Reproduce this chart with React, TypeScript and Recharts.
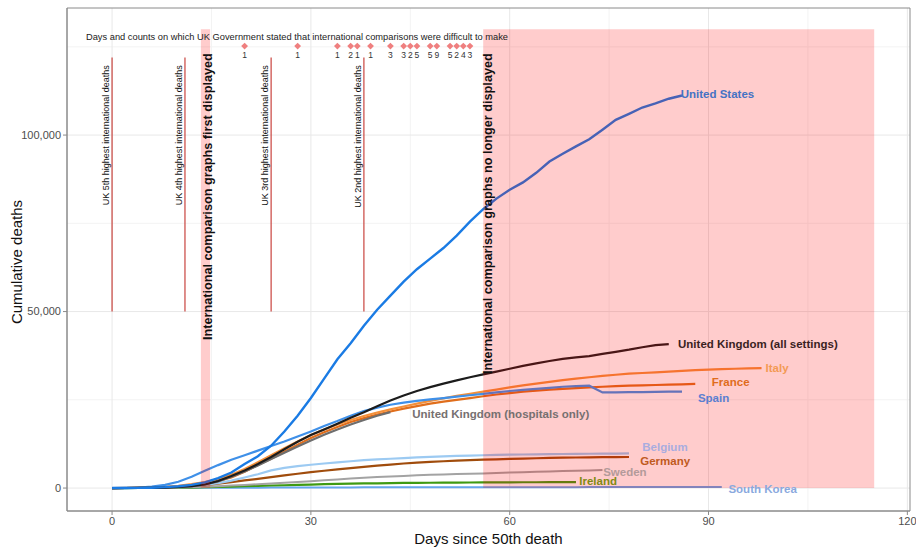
import React from 'react';
import {
  ComposedChart, Line, XAxis, YAxis, ReferenceArea, ReferenceLine, ReferenceDot,
} from 'recharts';

const FONT = "'Liberation Sans', Arial, sans-serif";

// days since 50th death, every 2 days
const DAYS = Array.from({ length: 50 }, (_, i) => i * 2);

// cumulative deaths, one value per entry of DAYS
const US = [0, 10, 40, 100, 250, 500, 900, 1600, 2800, 4400, 6800, 9000, 12000, 16000, 20500, 25500, 31000, 36500, 41000, 46000, 50500, 54500, 58500, 62000, 65000, 68000, 71500, 75500, 79000, 82000, 84500, 86600, 89300, 92500, 94700, 96800, 98800, 101500, 104300, 106000, 107800, 109000, 110300, 111200];
const UK_ALL = [0, 10, 30, 70, 150, 300, 550, 1000, 2000, 3400, 5000, 6800, 8800, 11000, 13100, 15000, 16600, 18200, 19900, 21500, 23200, 24800, 26200, 27500, 28600, 29600, 30500, 31400, 32200, 33000, 33800, 34600, 35300, 36000, 36600, 37000, 37400, 38000, 38600, 39200, 39900, 40500, 40800];
const UK_HOSP = [0, 10, 30, 70, 150, 300, 550, 1000, 1900, 3200, 4700, 6400, 8200, 10000, 11800, 13500, 15100, 16600, 18000, 19300, 20500, 21500];
const ITALY = [0, 30, 80, 180, 350, 650, 1100, 1700, 2500, 3800, 5400, 7300, 9300, 11300, 13200, 15000, 16600, 18000, 19300, 20400, 21400, 22300, 23100, 23900, 24700, 25400, 26100, 26700, 27300, 27900, 28500, 29100, 29600, 30100, 30600, 31000, 31400, 31800, 32100, 32400, 32600, 32800, 33000, 33200, 33400, 33550, 33700, 33800, 33900, 34000];
const FRANCE = [0, 20, 50, 120, 250, 450, 800, 1300, 2000, 3000, 4600, 6500, 8300, 10300, 12300, 14200, 15800, 17300, 18700, 19800, 20800, 21700, 22500, 23200, 23900, 24500, 25000, 25500, 26000, 26500, 26900, 27300, 27600, 27900, 28100, 28300, 28500, 28700, 28850, 29000, 29100, 29200, 29300, 29400, 29500];
const SPAIN = [0, 40, 150, 400, 900, 1800, 3200, 4900, 6500, 8000, 9300, 10600, 11900, 13200, 14600, 16000, 17600, 19000, 20500, 21800, 22800, 23600, 24200, 24700, 25100, 25500, 25900, 26300, 26700, 27100, 27500, 27800, 28100, 28400, 28700, 28900, 29000, 27100, 27100, 27150, 27200, 27250, 27300, 27300];
const BELGIUM = [0, 5, 20, 60, 150, 300, 550, 900, 1400, 2100, 3000, 3900, 5000, 5700, 6200, 6600, 6950, 7300, 7600, 7900, 8100, 8300, 8500, 8700, 8850, 9000, 9100, 9200, 9300, 9400, 9450, 9500, 9550, 9600, 9650, 9700, 9720, 9750, 9780, 9800];
const GERMANY = [0, 10, 30, 80, 170, 320, 550, 850, 1250, 1700, 2150, 2600, 3100, 3600, 4050, 4500, 4900, 5300, 5650, 6000, 6350, 6650, 6950, 7200, 7400, 7600, 7750, 7900, 8050, 8150, 8250, 8350, 8450, 8550, 8600, 8650, 8700, 8750, 8780, 8800];
const SWEDEN = [0, 5, 15, 40, 80, 150, 250, 380, 520, 700, 900, 1100, 1300, 1500, 1700, 1950, 2200, 2450, 2700, 2950, 3150, 3300, 3450, 3600, 3750, 3850, 3950, 4050, 4150, 4300, 4400, 4500, 4600, 4700, 4800, 4900, 5000, 5100];
const IRELAND = [0, 5, 15, 30, 60, 100, 150, 230, 320, 420, 520, 620, 720, 800, 900, 1000, 1100, 1200, 1250, 1300, 1350, 1400, 1440, 1480, 1510, 1540, 1560, 1580, 1600, 1610, 1630, 1640, 1650, 1660, 1670, 1680];
const SOUTH_KOREA = [0, 5, 15, 25, 35, 45, 55, 70, 80, 95, 105, 120, 130, 140, 150, 160, 170, 180, 190, 200, 205, 210, 215, 220, 225, 230, 235, 240, 245, 250, 252, 254, 256, 258, 260, 262, 264, 266, 268, 269, 270, 271, 272, 273, 274, 275, 276];

// drawn bottom to top
const SERIES = [
  { key: 'kr', values: SOUTH_KOREA, color: '#64a6ec', width: 2 },
  { key: 'ie', values: IRELAND, color: '#3f9a12', width: 2.2 },
  { key: 'se', values: SWEDEN, color: '#a3a3a3', width: 2 },
  { key: 'de', values: GERMANY, color: '#a04c0c', width: 2.2 },
  { key: 'be', values: BELGIUM, color: '#9ccaf2', width: 2.2 },
  { key: 'fr', values: FRANCE, color: '#e06e1c', width: 2.2 },
  { key: 'it', values: ITALY, color: '#f4903a', width: 2.2 },
  { key: 'es', values: SPAIN, color: '#3f90e8', width: 2.2 },
  { key: 'ukh', values: UK_HOSP, color: '#6e6e6e', width: 2.2 },
  { key: 'uka', values: UK_ALL, color: '#1c1c1c', width: 2.2 },
  { key: 'us', values: US, color: '#1a7be4', width: 2.4 },
];

// end labels: [text, day, deaths, colour as it appears on the pink]
const LABELS: [string, number, number, string][] = [
  ['United States', 85.8, 111600, '#4472c4'],
  ['United Kingdom (all settings)', 85.4, 40800, '#3a1f1f'],
  ['Italy', 98.6, 34000, '#f39a55'],
  ['France', 90.5, 30000, '#e06c1c'],
  ['Spain', 88.4, 25500, '#5b7fd1'],
  ['United Kingdom (hospitals only)', 45.3, 21000, '#767070'],
  ['Belgium', 80.0, 11500, '#a9acdf'],
  ['Germany', 79.7, 7600, '#c05a1e'],
  ['Sweden', 74.1, 4500, '#b39a9a'],
  ['Ireland', 70.5, 1900, '#808a12'],
  ['South Korea', 93.0, -300, '#8aa9de'],
];

const MILESTONE_DAYS = [0, 11, 24, 38];
const MILESTONE_TEXT = [
  'UK 5th highest international deaths',
  'UK 4th highest international deaths',
  'UK 3rd highest international deaths',
  'UK 2nd highest international deaths',
];

const DIFFICULT_DAYS = [20, 28, 34, 36, 37, 39, 42, 44, 45, 46, 48, 49, 51, 52, 53, 54];
const DIFFICULT_COUNTS = [1, 1, 1, 2, 1, 1, 3, 3, 2, 5, 5, 9, 5, 2, 4, 3];

const X_TICKS = [0, 30, 60, 90, 120];
const X_MINOR = [15, 45, 75, 105];
const Y_TICKS = [0, 50000, 100000];
const Y_MINOR = [25000, 75000, 125000];

const rows = DAYS.map((day, i) => {
  const r: any = { day };
  SERIES.forEach((s) => {
    if (i < s.values.length) r[s.key] = s.values[i];
  });
  return r;
});

const vText = (text: string, dx: number, size: number, weight: number) => (p: any) => {
  const x = p.cx + dx;
  return (
    <text x={x} y={p.cy} transform={`rotate(-90 ${x} ${p.cy})`} textAnchor="end"
      fontSize={size} fontWeight={weight} fill="#111" fontFamily={FONT}>{text}</text>
  );
};

const diamond = (count: number) => (p: any) => (
  <g>
    <polygon points={`${p.cx},${p.cy - 3.4} ${p.cx + 3.4},${p.cy} ${p.cx},${p.cy + 3.4} ${p.cx - 3.4},${p.cy}`} fill="#ef7f7f" />
    <text x={p.cx} y={p.cy + 12} textAnchor="middle" fontSize={8.5} fill="#333" fontFamily={FONT}>{count}</text>
  </g>
);

const endLabel = (text: string, color: string) => (p: any) => (
  <text x={p.cx} y={p.cy} dominantBaseline="central" fontSize={11.5} fontWeight={700}
    fill={color} fontFamily={FONT}>{text}</text>
);

export default function App() {
  return (
    <div style={{ position: 'absolute', left: 0, top: 0, width: 916, height: 550, background: '#fff' }}>
      <ComposedChart width={916} height={550} data={rows} margin={{ top: 8, right: 6, bottom: 0, left: 0 }}>
        {X_MINOR.map((d) => (
          <ReferenceLine key={'xm' + d} x={d} stroke="#f3f3f3" strokeWidth={1} zIndex={-50} />
        ))}
        {Y_MINOR.map((v) => (
          <ReferenceLine key={'ym' + v} y={v} stroke="#f3f3f3" strokeWidth={1} zIndex={-50} />
        ))}
        {X_TICKS.map((d) => (
          <ReferenceLine key={'x' + d} x={d} stroke="#e8e8e8" strokeWidth={1} zIndex={-50} />
        ))}
        {Y_TICKS.map((v) => (
          <ReferenceLine key={'y' + v} y={v} stroke="#e8e8e8" strokeWidth={1} zIndex={-50} />
        ))}
        <XAxis dataKey="day" type="number" domain={[-6.8, 120.4]} ticks={X_TICKS} allowDataOverflow
          height={39} tickSize={4} stroke="#8a8a8a" tick={{ fontSize: 11, fill: '#4d4d4d', fontFamily: FONT }} />
        <YAxis type="number" domain={[-6500, 136000]} ticks={Y_TICKS} allowDataOverflow width={67}
          tickSize={4} stroke="#8a8a8a" tickFormatter={(v: number) => v.toLocaleString('en-US')}
          tick={{ fontSize: 11, fill: '#4d4d4d', fontFamily: FONT }} />
        {SERIES.map((s) => (
          <Line key={s.key} dataKey={s.key} stroke={s.color} strokeWidth={s.width} dot={false}
            activeDot={false} type="linear" isAnimationActive={false} connectNulls={false} />
        ))}
        {MILESTONE_DAYS.map((d) => (
          <ReferenceLine key={'ms' + d} segment={[{ x: d, y: 50000 }, { x: d, y: 122000 }]}
            stroke="#c9443f" strokeWidth={1.2} />
        ))}
        <ReferenceArea x1={13.4} x2={14.8} y1={0} y2={130000} fill="#ff0000" fillOpacity={0.2} stroke="none" zIndex={450} />
        <ReferenceArea x1={56} x2={115} y1={0} y2={130000} fill="#ff0000" fillOpacity={0.2} stroke="none" zIndex={450} />
        <ReferenceArea x1={-6.8} x2={120.4} y1={-6500} y2={136000} fill="none" stroke="#8a8a8a" ifOverflow="visible" zIndex={460} />
        {MILESTONE_DAYS.map((d, i) => (
          <ReferenceDot key={'mt' + d} x={d} y={119800} r={0} shape={vText(MILESTONE_TEXT[i], -3, 9, 400)} zIndex={600} />
        ))}
        <ReferenceDot x={14.1} y={123200} r={0} zIndex={600}
          shape={vText('International comparison graphs first displayed', 6, 12.7, 700)} />
        <ReferenceDot x={56} y={123200} r={0} zIndex={600}
          shape={vText('International comparison graphs no longer displayed', 9, 12.7, 700)} />
        <ReferenceDot x={27.9} y={127800} r={0} zIndex={600}
          shape={(p: any) => (
            <text x={p.cx} y={p.cy} textAnchor="middle" dominantBaseline="central" fontSize={9.3}
              fill="#222" fontFamily={FONT}>
              Days and counts on which UK Government stated that international comparisons were difficult to make
            </text>
          )} />
        {DIFFICULT_DAYS.map((d, i) => (
          <ReferenceDot key={'dd' + d} x={d} y={125200} r={0} zIndex={600} shape={diamond(DIFFICULT_COUNTS[i])} />
        ))}
        {LABELS.map(([t, d, v, c]) => (
          <ReferenceDot key={t} x={d} y={v} r={0} zIndex={600} shape={endLabel(t, c)} />
        ))}
      </ComposedChart>
      <div style={{ position: 'absolute', left: 0, width: 916, top: 530, textAlign: 'center', paddingLeft: 61,
        boxSizing: 'border-box', fontFamily: FONT, fontSize: 15, color: '#111' }}>
        Days since 50th death
      </div>
      <div style={{ position: 'absolute', left: 15.5, top: 262, width: 0, height: 0 }}>
        <div style={{ position: 'absolute', transform: 'translate(-50%, -50%) rotate(-90deg)', whiteSpace: 'nowrap',
          fontFamily: FONT, fontSize: 15, color: '#111' }}>
          Cumulative deaths
        </div>
      </div>
    </div>
  );
}
